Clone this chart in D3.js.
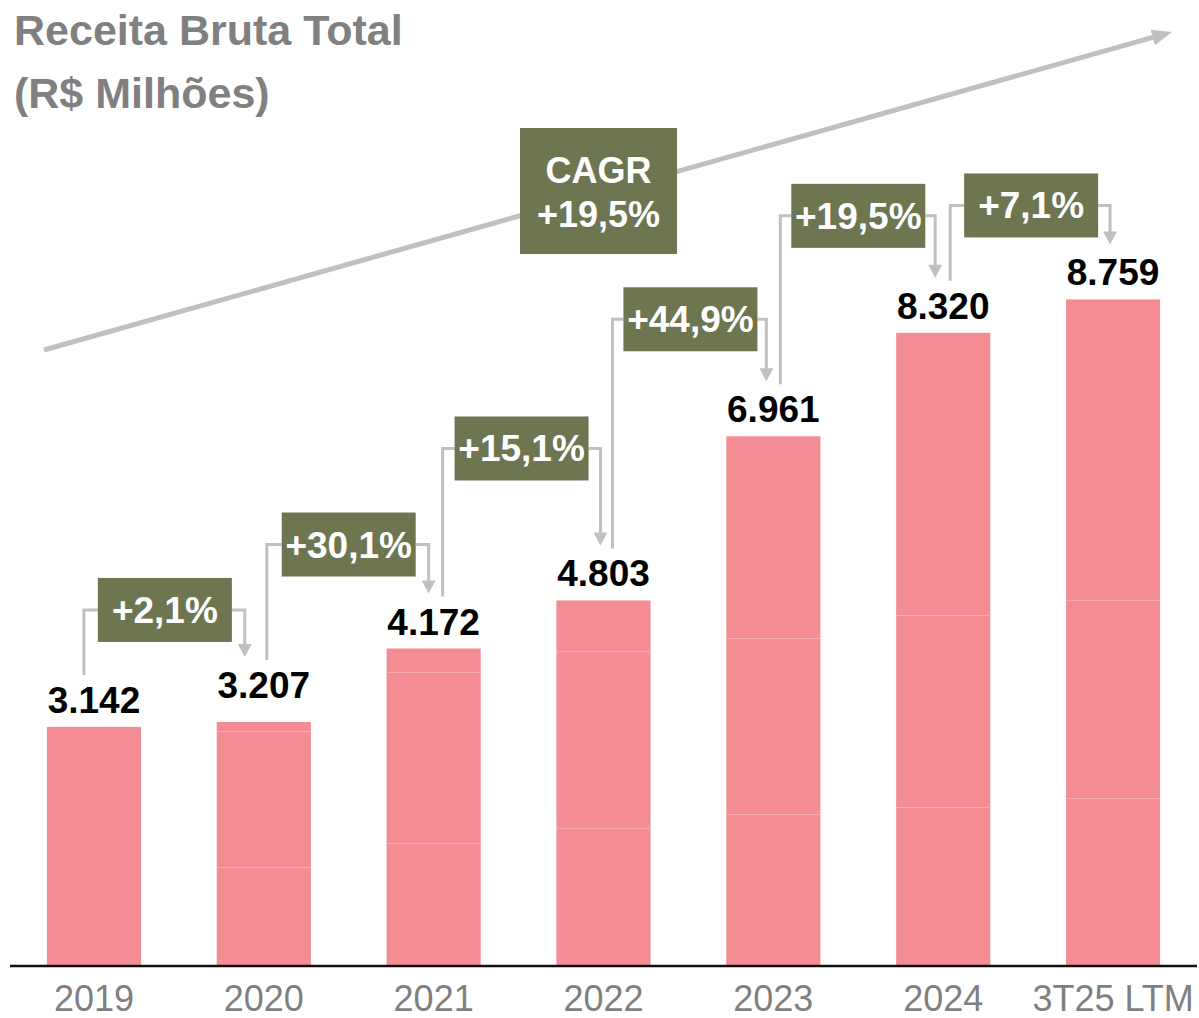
<!DOCTYPE html>
<html>
<head>
<meta charset="utf-8">
<script src="https://cdn.jsdelivr.net/npm/d3@7"></script>
<style>
  body { margin: 0; background: #fff; }
  svg { display: block; font-family: "Liberation Sans", Arial, sans-serif; }
</style>
</head>
<body>
<div id="chart"></div>
<script>
// categories and values
const years = ['2019', '2020', '2021', '2022', '2023', '2024', '3T25 LTM'];
const totals = [3142, 3207, 4172, 4803, 6961, 8320, 8759];
// stacked pieces inside each bar (same colour, only a faint seam between them)
const segBottom = [3142, 1301, 1616, 1813, 1997, 2089, 2207];
const segMiddle = [0, 1787, 2247, 2326, 2313, 2523, 2602];
const segTop = [0, 119, 309, 664, 2651, 3708, 3950];
const growth = ['+2,1%', '+30,1%', '+15,1%', '+44,9%', '+19,5%', '+7,1%'];
const cagrLabel = ['CAGR', '+19,5%'];

// annotation nudges (pixels)
const labelLift = [0, 10, 0, 0, 0, 0, 0];
const boxLift = [112, 104, 152, 117, 117, 94];
const boxShift = [-14, 0, 3, 2, 0, 3];
const startDx = [-10, 3, 9, 9, 7, 7];
const arrowDx = [-19, -5, -3, -7, -8, -3];

const COLORS = {
    bar: '#f48c94',
    seam: '#f7aab0',
    box: '#6e7551',
    connector: '#c0c0c0',
    title: '#808080',
    axisText: '#7f7f7f'
};

const W = 1199, H = 1018;
const base = 966;

const svg = d3.select('#chart').append('svg')
    .attr('width', W)
    .attr('height', H);

const x = d3.scaleBand()
    .domain(years)
    .range([9, 1198])
    .paddingInner(0.446)
    .paddingOuter(0.223);

const y = d3.scaleLinear()
    .domain([0, 10000])
    .range([base, 205]);

const br = d3.formatLocale({ decimal: ',', thousands: '.', grouping: [3], currency: ['R$', ''] });
const fmt = br.format(',d');

// title
const title = svg.append('text')
    .attr('x', 14)
    .attr('fill', COLORS.title)
    .attr('font-size', 43)
    .attr('font-weight', 'bold');
title.append('tspan').attr('x', 14).attr('y', 45).text('Receita Bruta Total');
title.append('tspan').attr('x', 14).attr('y', 108).text('(R$ Milhões)');

// CAGR arrow
const cagrStart = [44, 350], cagrTip = [1172, 32];
const ang = Math.atan2(cagrTip[1] - cagrStart[1], cagrTip[0] - cagrStart[0]);
const headLen = 20, headHalf = 8;
const lineEnd = [cagrTip[0] - headLen * Math.cos(ang), cagrTip[1] - headLen * Math.sin(ang)];
svg.append('line')
    .attr('x1', cagrStart[0]).attr('y1', cagrStart[1])
    .attr('x2', lineEnd[0]).attr('y2', lineEnd[1])
    .attr('stroke', COLORS.connector)
    .attr('stroke-width', 5);
svg.append('path')
    .attr('d', `M${cagrTip[0]},${cagrTip[1]}
        L${lineEnd[0] - headHalf * Math.sin(ang)},${lineEnd[1] + headHalf * Math.cos(ang)}
        L${lineEnd[0] + headHalf * Math.sin(ang)},${lineEnd[1] - headHalf * Math.cos(ang)}Z`)
    .attr('fill', COLORS.connector);

// stacked bars
const rows = years.map((yr, i) => ({
    year: yr,
    bottom: segBottom[i],
    middle: segMiddle[i],
    top: segTop[i]
}));
const series = d3.stack().keys(['bottom', 'middle', 'top'])(rows);

const barGroups = svg.selectAll('.bar-group')
    .data(series)
    .enter()
    .append('g')
    .attr('class', 'bar-group')
    .attr('fill', COLORS.bar);

barGroups.selectAll('rect')
    .data(d => d.filter(p => p[1] > p[0]))
    .enter()
    .append('rect')
    .attr('x', d => x(d.data.year))
    .attr('y', d => y(d[1]))
    .attr('width', x.bandwidth())
    .attr('height', d => y(d[0]) - y(d[1]));

// faint seams between stacked pieces
series.slice(1).forEach(s => {
    s.filter(p => p[1] > p[0] && p[0] > 0).forEach(p => {
        svg.append('line')
            .attr('x1', x(p.data.year))
            .attr('x2', x(p.data.year) + x.bandwidth())
            .attr('y1', y(p[0]) + 0.5)
            .attr('y2', y(p[0]) + 0.5)
            .attr('stroke', COLORS.seam)
            .attr('stroke-width', 1);
    });
});

// axis baseline
svg.append('line')
    .attr('x1', 10).attr('x2', 1197)
    .attr('y1', base).attr('y2', base)
    .attr('stroke', '#111')
    .attr('stroke-width', 2.5);

// category labels
svg.selectAll('.cat')
    .data(years)
    .enter()
    .append('text')
    .attr('class', 'cat')
    .attr('x', d => x(d) + x.bandwidth() / 2)
    .attr('y', 1011)
    .attr('text-anchor', 'middle')
    .attr('fill', COLORS.axisText)
    .attr('font-size', 36)
    .text(d => d);

// value labels
svg.selectAll('.val')
    .data(totals)
    .enter()
    .append('text')
    .attr('class', 'val')
    .attr('x', (d, i) => x(years[i]) + x.bandwidth() / 2)
    .attr('y', (d, i) => y(d) - 14 - labelLift[i])
    .attr('text-anchor', 'middle')
    .attr('fill', '#000')
    .attr('font-size', 37)
    .attr('font-weight', 'bold')
    .text(d => fmt(d));

// growth connectors + boxes
const boxW = 134, boxH = 64;
growth.forEach((g, i) => {
    const c0 = x(years[i]) + x.bandwidth() / 2;
    const c1 = x(years[i + 1]) + x.bandwidth() / 2;
    const topY = Math.min(y(totals[i]), y(totals[i + 1]));
    const cy = topY - boxLift[i];
    const cx = (c0 + c1) / 2 + boxShift[i];
    const sx = c0 + startDx[i];
    const ax = c1 + arrowDx[i];
    const startBottom = y(totals[i]) - 52 - labelLift[i];
    const tipY = y(totals[i + 1]) - 55 - labelLift[i + 1];

    svg.append('path')
        .attr('d', `M${sx},${startBottom} L${sx},${cy} L${cx - boxW / 2},${cy}`)
        .attr('fill', 'none')
        .attr('stroke', COLORS.connector)
        .attr('stroke-width', 3);
    svg.append('path')
        .attr('d', `M${cx + boxW / 2},${cy} L${ax},${cy} L${ax},${tipY - 12}`)
        .attr('fill', 'none')
        .attr('stroke', COLORS.connector)
        .attr('stroke-width', 3);
    svg.append('path')
        .attr('d', `M${ax - 7},${tipY - 13} L${ax + 7},${tipY - 13} L${ax},${tipY}Z`)
        .attr('fill', COLORS.connector);

    svg.append('rect')
        .attr('x', cx - boxW / 2)
        .attr('y', cy - boxH / 2)
        .attr('width', boxW)
        .attr('height', boxH)
        .attr('fill', COLORS.box);
    svg.append('text')
        .attr('x', cx)
        .attr('y', cy + 13)
        .attr('text-anchor', 'middle')
        .attr('fill', '#fff')
        .attr('font-size', 37)
        .attr('font-weight', 'bold')
        .text(g);
});

// CAGR box
svg.append('rect')
    .attr('x', 520).attr('y', 128)
    .attr('width', 157).attr('height', 126)
    .attr('fill', COLORS.box);
svg.selectAll('.cagr')
    .data(cagrLabel)
    .enter()
    .append('text')
    .attr('class', 'cagr')
    .attr('x', 598.5)
    .attr('y', (d, i) => 183 + i * 44)
    .attr('text-anchor', 'middle')
    .attr('fill', '#fff')
    .attr('font-size', 36)
    .attr('font-weight', 'bold')
    .text(d => d);
</script>
</body>
</html>
